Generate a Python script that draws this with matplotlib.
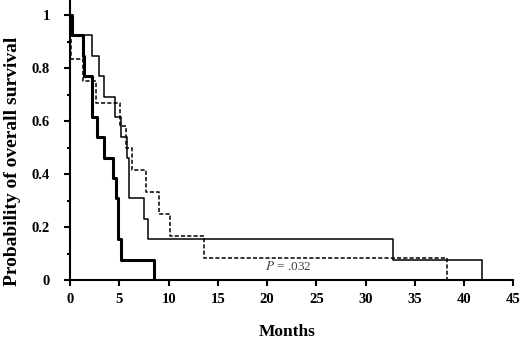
import matplotlib
matplotlib.use('Agg')
import matplotlib.pyplot as plt
from matplotlib.ticker import MultipleLocator

plt.rcParams['font.family'] = ['Liberation Serif', 'DejaVu Serif']
plt.rcParams['mathtext.fontset'] = 'stix'

# Kaplan-Meier curves (time in months, survival after the step)
thick_t = [0, 0.2, 1.3, 1.45, 2.2, 2.7, 3.4, 4.35, 4.7, 4.9, 5.2, 8.5]
thick_s = [1, 0.923, 0.846, 0.769, 0.615, 0.538, 0.462, 0.385, 0.308, 0.154, 0.077, 0]

thin_t = [0, 0.2, 2.2, 2.9, 3.4, 4.5, 5.2, 5.8, 6.0, 7.45, 7.9, 32.8, 41.8]
thin_s = [1, 0.923, 0.846, 0.769, 0.692, 0.615, 0.538, 0.462, 0.308, 0.231, 0.154, 0.077, 0]

dash_t = [0, 0.05, 1.33, 2.65, 5.1, 5.68, 6.3, 7.7, 9.0, 10.1, 13.6, 38.3]
dash_s = [1, 0.833, 0.75, 0.667, 0.583, 0.5, 0.417, 0.333, 0.25, 0.167, 0.083, 0]

x_ticks = [0, 5, 10, 15, 20, 25, 30, 35, 40, 45]
y_ticks = [0, 0.2, 0.4, 0.6, 0.8, 1]
y_labels = ['0', '0.2', '0.4', '0.6', '0.8', '1']

fig = plt.figure(figsize=(5.2, 3.39), dpi=100)
ax = fig.add_axes([0.135, 0.174, 0.852, 0.826])

ax.step(thin_t, thin_s, where='post', color='black', lw=1.1)
ax.step(dash_t, dash_s, where='post', color='black', lw=1.1, dashes=(2.7, 1.4))
ax.step(thick_t, thick_s, where='post', color='black', lw=2.2)

ax.text(19.8, 0.05, r'$P$ = .032', fontsize=9.5, color='#444444', va='center', ha='left')

ax.set_xlim(0, 45)
ax.set_ylim(0, 1.057)
ax.set_xticks(x_ticks)
ax.set_yticks(y_ticks)
ax.set_yticklabels(y_labels)
ax.yaxis.set_minor_locator(MultipleLocator(0.1))

for s in ['top', 'right']:
    ax.spines[s].set_visible(False)
for s in ['left', 'bottom']:
    ax.spines[s].set_linewidth(1.5)

ax.tick_params(axis='both', which='major', direction='out', length=4.5, width=1.5,
               labelsize=10.5)
ax.tick_params(axis='y', which='minor', direction='out', length=2.5, width=1.5)
ax.tick_params(axis='y', which='major', pad=10)
ax.tick_params(axis='x', which='major', pad=5)
for lab in ax.get_xticklabels() + ax.get_yticklabels():
    lab.set_fontweight('bold')

fig.text(0.025, 0.525, 'Probability of overall survival', rotation=90, fontsize=14,
         fontweight='bold', ha='center', va='center')
fig.text(0.552, 0.02, 'Months', fontsize=12.5, fontweight='bold', ha='center', va='center')

fig.savefig('out.png', dpi=100)
